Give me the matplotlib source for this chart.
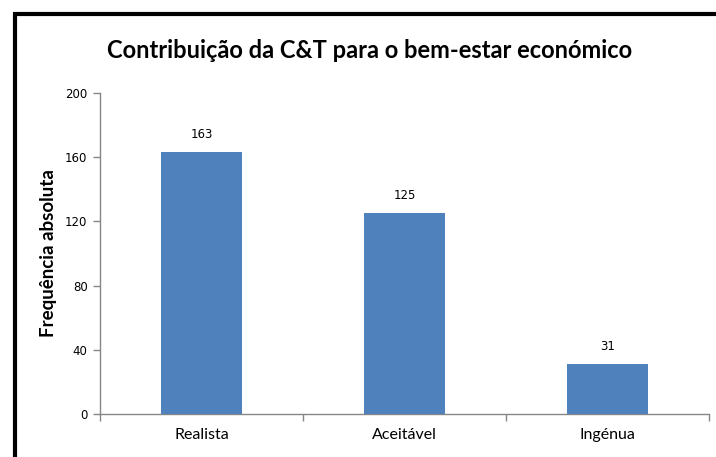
import matplotlib.pyplot as plt
from matplotlib.patches import Rectangle

# --- Data ---
categories = ["Realista", "Aceitável", "Ingénua"]
values = [163, 125, 31]
y_ticks = [0, 40, 80, 120, 160, 200]

title = "Contribuição da C&T para o bem-estar económico"
ylabel = "Frequência absoluta"

bar_color = "#4F81BD"
axis_color = "#868686"

fig = plt.figure(figsize=(7.16, 4.57), dpi=100)
ax = fig.add_axes([100 / 716, 43 / 457, 609 / 716, 321 / 457])

x = range(len(categories))
bars = ax.bar(x, values, width=0.4, color=bar_color, zorder=3)

# value labels above bars
for xi, v in zip(x, values):
    ax.annotate(str(v), (xi, v), xytext=(0, 8), textcoords="offset points",
                ha="center", va="bottom", fontsize=8.5, family="DejaVu Sans")

ax.set_xlim(-0.5, len(categories) - 0.5)
ax.set_ylim(0, 200)
ax.set_yticks(y_ticks)
ax.set_yticklabels([str(t) for t in y_ticks], family="DejaVu Sans", fontsize=8.5)

# category labels, ticks at the boundaries like Excel
ax.set_xticks(list(x))
ax.set_xticklabels(categories, family="Lato", fontsize=11.5)
ax.tick_params(axis="x", which="major", length=0, pad=10)
ax.set_xticks([i - 0.5 for i in range(len(categories) + 1)], minor=True)
ax.tick_params(axis="x", which="minor", length=5, color=axis_color, width=1)
ax.tick_params(axis="y", length=5, color=axis_color, width=1, pad=4)

for side in ["top", "right"]:
    ax.spines[side].set_visible(False)
for side in ["left", "bottom"]:
    ax.spines[side].set_color(axis_color)
    ax.spines[side].set_linewidth(1)

ax.set_ylabel(ylabel, family="Lato", fontweight="bold", fontsize=13.5, labelpad=6)

fig.text(370 / 716, 1 - 50 / 457, title, ha="center", va="center",
         family="Lato", fontweight="bold", fontsize=17)

# black frame around the chart area (right/bottom run off the image)
frame = Rectangle((14.5 / 716, -0.1), 1.2, 1 - 14.5 / 457 + 0.1,
                  transform=fig.transFigure, fill=False,
                  edgecolor="black", linewidth=3)
fig.patches.append(frame)

fig.savefig("out.png", dpi=100)
